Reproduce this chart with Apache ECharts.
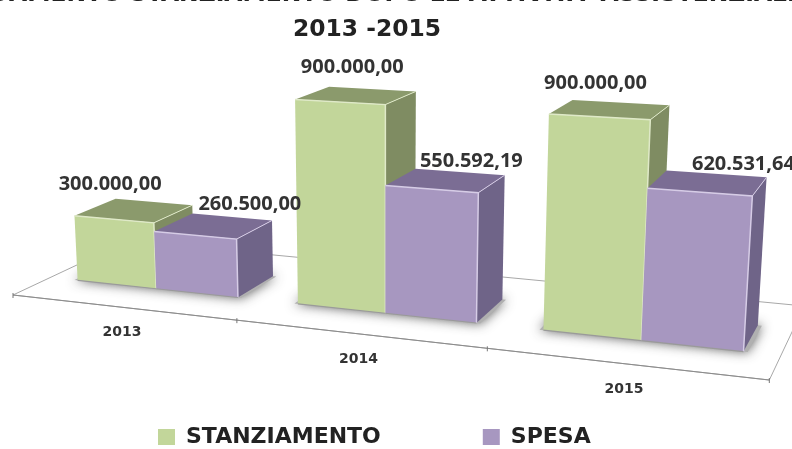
<!DOCTYPE html>
<html>
<head>
<meta charset="utf-8">
<style>html,body{margin:0;padding:0;background:#fff}#chart{width:792px;height:449px}</style>
<script src="https://cdn.jsdelivr.net/npm/echarts@6/dist/echarts.min.js"></script>
</head>
<body>
<div id="chart"></div>
<script>
// Budget and spending per year
const years = ['2013', '2014', '2015'];
const stanziamento = [300000, 900000, 900000];
const spesa = [260500, 550592.19, 620531.64];

// Floor perspective: maps plane position s (left to right) and t (front to back) to pixels
const F = { g: -0.159, h: 0.1266, a: 634, b: 131.2, c: 13, d: 24.6, e: -23.5, f: 295 };
const VANISH_X = 385, VANISH_DIST = 6300;
const DEPTH_FRONT = 0.3, DEPTH_BACK = 0.66, BAR_SHARE = 0.369;
const FONT = '"Open Sans", sans-serif';
const WIDE_FONT = '"DejaVu Sans", sans-serif';

function project(s, t, rise) {
  const w = 1 + F.g * s + F.h * t;
  const gx = (F.a * s + F.b * t + F.c) / w;
  const gy = (F.d * s + F.e * t + F.f) / w;
  const r = (rise || 0) / w;
  return [gx + (gx - VANISH_X) * r / VANISH_DIST, gy - r];
}

// Label placement relative to the centre of each bar's top face
const labelShift = {
  stanziamento: [[-24, -26.5], [-4, -28.5], [-14.5, -26]],
  spesa: [[36, -22], [25.5, -19], [35.5, -18.5]]
};

function poly(points, style) {
  return { type: 'polygon', shape: { points }, style, silent: true };
}

function barRenderer(side, colors, shifts) {
  return function (params, api) {
    const cat = api.value(0), val = api.value(1);
    const cx = api.coord([cat, 0])[0];
    const base = api.coord([cat, 0])[1];
    const rise = base - api.coord([cat, val])[1];
    const bw = api.size([1, 0])[0] * BAR_SHARE;
    const W = params.coordSys.width;
    const s0 = (side < 0 ? cx - bw : cx) / W;
    const s1 = (side < 0 ? cx : cx + bw) / W;
    const fbl = project(s0, DEPTH_FRONT, 0), fbr = project(s1, DEPTH_FRONT, 0);
    const ftl = project(s0, DEPTH_FRONT, rise), ftr = project(s1, DEPTH_FRONT, rise);
    const bbr = project(s1, DEPTH_BACK, 0);
    const btl = project(s0, DEPTH_BACK, rise), btr = project(s1, DEPTH_BACK, rise);
    const mid = project((s0 + s1) / 2, (DEPTH_FRONT + DEPTH_BACK) / 2, rise);
    const shift = shifts[params.dataIndex];
    return {
      type: 'group',
      children: [
        poly([fbr, bbr, btr, ftr], { fill: colors.side }),
        poly([ftl, ftr, btr, btl], { fill: colors.top }),
        poly([fbl, fbr, ftr, ftl], { fill: colors.front }),
        { type: 'polyline', silent: true, shape: { points: [ftl, ftr, fbr] },
          style: { fill: 'none', stroke: colors.edge, lineWidth: 1.5 } },
        { type: 'line', silent: true, shape: { x1: ftr[0], y1: ftr[1], x2: btr[0], y2: btr[1] },
          style: { stroke: colors.edge, lineWidth: 1 } },
        { type: 'line', silent: true, shape: { x1: fbl[0], y1: fbl[1], x2: fbr[0], y2: fbr[1] },
          style: { stroke: '#9a9a9a', lineWidth: 1.2 } },
        { type: 'text', silent: true, style: {
            x: mid[0] + shift[0], y: mid[1] + shift[1],
            text: val.toLocaleString('it-IT', { minimumFractionDigits: 2, maximumFractionDigits: 2 }),
            align: 'center', verticalAlign: 'middle',
            font: '700 20px ' + FONT, fill: '#333333' } }
      ]
    };
  };
}

function renderFloor(params, api) {
  const A = project(0, 0), B = project(1, 0), C = project(1, 1), D = project(0, 1);
  const children = [
    poly([A, B, C, D], { fill: '#ffffff', stroke: '#a8a8a8', lineWidth: 1 }),
    { type: 'line', silent: true, shape: { x1: A[0], y1: A[1], x2: B[0], y2: B[1] },
      style: { stroke: '#8c8c8c', lineWidth: 1.2 } }
  ];
  const n = years.length;
  for (let i = 0; i <= n; i++) {
    const p = project(i / n, 0);
    children.push({ type: 'line', silent: true, shape: { x1: p[0], y1: p[1] - 2, x2: p[0], y2: p[1] + 3 },
      style: { stroke: '#777777', lineWidth: 1 } });
  }
  years.forEach((label, i) => {
    const p = project((i + 0.5) / n, 0);
    children.push({ type: 'text', silent: true, style: {
      x: p[0], y: p[1] + 25.5, text: label, align: 'center', verticalAlign: 'middle',
      font: '700 14px ' + WIDE_FONT, fill: '#333333' } });
  });
  return { type: 'group', children };
}

function renderShadow(params, api) {
  const cx = api.coord([api.value(0), 0])[0];
  const bw = api.size([1, 0])[0] * BAR_SHARE;
  const W = params.coordSys.width;
  const s0 = (cx - bw) / W - 0.005, s1 = (cx + bw) / W + 0.005;
  return poly([
    project(s0, DEPTH_FRONT), project(s1, DEPTH_FRONT),
    project(s1, DEPTH_BACK), project(s0, DEPTH_BACK)
  ], { fill: '#b0b0b0', shadowBlur: 12, shadowColor: 'rgba(60,60,60,0.85)' });
}

const chart = echarts.init(document.getElementById('chart'), null, { renderer: 'canvas' });
chart.setOption({
  animation: false,
  backgroundColor: '#ffffff',
  title: [
    { text: "ANDAMENTO STANZIAMENTO DOPO LE ATTIVITA' ASSISTENZIALI", left: -53, top: -22,
      textStyle: { fontFamily: WIDE_FONT, fontWeight: 700, fontSize: 23.4, color: '#222222' } },
    { text: '2013 -2015', left: 362, top: 13, textAlign: 'center',
      textStyle: { fontFamily: WIDE_FONT, fontWeight: 700, fontSize: 23.4, color: '#222222' } }
  ],
  legend: {
    data: ['STANZIAMENTO', 'SPESA'],
    left: 153, top: 421, itemWidth: 17, itemHeight: 16, itemGap: 102, icon: 'rect',
    textStyle: { fontFamily: WIDE_FONT, fontWeight: 700, fontSize: 22, color: '#222222', padding: [10, 0, 0, 6] }
  },
  grid: { left: 0, top: 100, width: 792, height: 200 },
  xAxis: { type: 'category', data: years, show: false },
  yAxis: { type: 'value', min: 0, max: 900000, show: false },
  series: [
    { type: 'custom', name: 'floor', renderItem: renderFloor, data: [[0, 0]], clip: false, silent: true },
    { type: 'custom', name: 'shadow', renderItem: renderShadow, data: years.map((y, i) => [i, 0]), clip: false, silent: true },
    { type: 'custom', name: 'STANZIAMENTO', clip: false,
      itemStyle: { color: '#c2d69a' }, encode: { x: 0, y: 1 },
      renderItem: barRenderer(-1, { front: '#c2d69a', top: '#8b9a6c', side: '#7f8c62', edge: '#dfe9c8' }, labelShift.stanziamento),
      data: stanziamento.map((v, i) => [i, v]) },
    { type: 'custom', name: 'SPESA', clip: false,
      itemStyle: { color: '#a797c0' }, encode: { x: 0, y: 1 },
      renderItem: barRenderer(1, { front: '#a797c0', top: '#7b6d94', side: '#6f6488', edge: '#d6cce6' }, labelShift.spesa),
      data: spesa.map((v, i) => [i, v]) }
  ]
});
</script>
</body>
</html>
